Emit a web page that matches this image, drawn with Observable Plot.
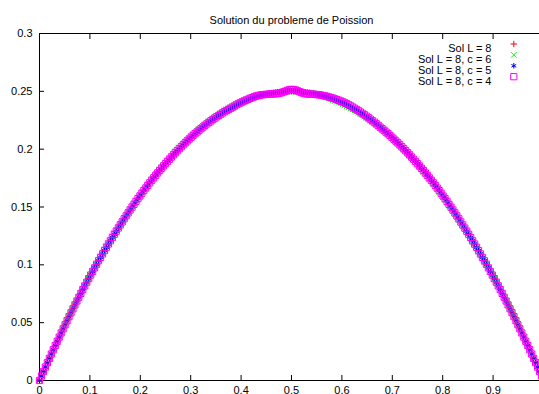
<!DOCTYPE html>
<html><head><meta charset="utf-8">
<script src="https://cdn.jsdelivr.net/npm/d3@7"></script>
<script src="https://cdn.jsdelivr.net/npm/@observablehq/plot@0.6"></script>
<style>
html,body{margin:0;padding:0;background:#fff;overflow:hidden;}
#chart{width:539px;height:394px;overflow:hidden;}
</style></head><body><div id="chart"></div>
<script>
const title = "Solution du probleme de Poission";
const seriesLabels = ["Sol L = 8", "Sol L = 8, c = 6", "Sol L = 8, c = 5", "Sol L = 8, c = 4"];
const xTicks = [0, 0.1, 0.2, 0.3, 0.4, 0.5, 0.6, 0.7, 0.8, 0.9, 1];
const yTicks = [0, 0.05, 0.1, 0.15, 0.2, 0.25, 0.3];

const xs = [0, .0039, .0078, .0117, .0156, .0195, .0234, .0273, .0313, .0352, .0391, .043, .0469, .0508, .0547, .0586, .0625, .0664, .0703, .0742, .0781, .082, .0859, .0898, .0938, .0977, .1016, .1055, .1094, .1133, .1172, .1211, .125, .1289, .1328, .1367, .1406, .1445, .1484, .1523, .1563, .1602, .1641, .168, .1719, .1758, .1797, .1836, .1875, .1914, .1953, .1992, .2031, .207, .2109, .2148, .2188, .2227, .2266, .2305, .2344, .2383, .2422, .2461,
.25, .2539, .2578, .2617, .2656, .2695, .2734, .2773, .2813, .2852, .2891, .293, .2969, .3008, .3047, .3086, .3125, .3164, .3203, .3242, .3281, .332, .3359, .3398, .3438, .3477, .3516, .3555, .3594, .3633, .3672, .3711, .375, .3789, .3828, .3867, .3906, .3945, .3984, .4023, .4063, .4102, .4141, .418, .4219, .4258, .4297, .4336, .4375, .4414, .4453, .4492, .4531, .457, .4609, .4648, .4688, .4727, .4766, .4805, .4844, .4883, .4922, .4961,
.5, .5039, .5078, .5117, .5156, .5195, .5234, .5273, .5313, .5352, .5391, .543, .5469, .5508, .5547, .5586, .5625, .5664, .5703, .5742, .5781, .582, .5859, .5898, .5938, .5977, .6016, .6055, .6094, .6133, .6172, .6211, .625, .6289, .6328, .6367, .6406, .6445, .6484, .6523, .6563, .6602, .6641, .668, .6719, .6758, .6797, .6836, .6875, .6914, .6953, .6992, .7031, .707, .7109, .7148, .7188, .7227, .7266, .7305, .7344, .7383, .7422, .7461,
.75, .7539, .7578, .7617, .7656, .7695, .7734, .7773, .7813, .7852, .7891, .793, .7969, .8008, .8047, .8086, .8125, .8164, .8203, .8242, .8281, .832, .8359, .8398, .8438, .8477, .8516, .8555, .8594, .8633, .8672, .8711, .875, .8789, .8828, .8867, .8906, .8945, .8984, .9023, .9063, .9102, .9141, .918, .9219, .9258, .9297, .9336, .9375, .9414, .9453, .9492, .9531, .957, .9609, .9648, .9688, .9727, .9766, .9805, .9844, .9883, .9922, .9961, 1];

const solL8 = [0, .0039, .0078, .0116, .0154, .0191, .0229, .0266, .0303, .0339,
.0375, .0411, .0447, .0482, .0517, .0552, .0586, .062, .0654, .0687,
.072, .0753, .0786, .0818, .085, .0881, .0912, .0943, .0974, .1005,
.1035, .1064, .1094, .1123, .1152, .118, .1208, .1236, .1264, .1291,
.1318, .1345, .1371, .1398, .1423, .1449, .1474, .1499, .1523, .1548,
.1572, .1595, .1619, .1642, .1664, .1687, .1709, .1731, .1752, .1774,
.1794, .1815, .1835, .1855, .1875, .1894, .1913, .1932, .1951, .1969,
.1987, .2004, .2021, .2038, .2055, .2071, .2087, .2103, .2119, .2134,
.2148, .2163, .2177, .2191, .2205, .2218, .2231, .2244, .2256, .2268,
.228, .2291, .2302, .2313, .2324, .2334, .2344, .2353, .2363, .2372,
.238, .2389, .2397, .2405, .2412, .2419, .2426, .2433, .2439, .2445,
.2451, .2456, .2461, .2466, .247, .2474, .2478, .2482, .2485, .2488,
.249, .2493, .2495, .2496, .2498, .2499, .2499, .25, .25,
.25, .2499, .2499, .2498, .2496, .2495, .2493, .249,
.2488, .2485, .2482, .2478, .2474, .247, .2466, .2461, .2456, .2451,
.2445, .2439, .2433, .2426, .2419, .2412, .2405, .2397, .2389, .238,
.2372, .2363, .2353, .2344, .2334, .2324, .2313, .2302, .2291, .228,
.2268, .2256, .2244, .2231, .2218, .2205, .2191, .2177, .2163, .2148,
.2134, .2119, .2103, .2087, .2071, .2055, .2038, .2021, .2004, .1987,
.1969, .1951, .1932, .1913, .1894, .1875, .1855, .1835, .1815, .1794,
.1774, .1752, .1731, .1709, .1687, .1664, .1642, .1619, .1595, .1572,
.1548, .1523, .1499, .1474, .1449, .1423, .1398, .1371, .1345, .1318,
.1291, .1264, .1236, .1208, .118, .1152, .1123, .1094, .1064, .1035,
.1005, .0974, .0943, .0912, .0881, .085, .0818, .0786, .0753, .072,
.0687, .0654, .062, .0586, .0552, .0517, .0482, .0447, .0411, .0375,
.0339, .0303, .0266, .0229, .0191, .0154, .0116, .0078, .0039, 0];

const solC6 = [0, .0039, .0078, .0116, .0154, .0191, .0229, .0266, .0303, .0339,
.0375, .0411, .0447, .0482, .0517, .0552, .0586, .062, .0654, .0687,
.072, .0753, .0786, .0818, .085, .0881, .0912, .0943, .0974, .1005,
.1045, .1074, .1104, .1133, .1162, .119, .1218, .1246, .1274, .1301,
.1328, .1355, .1381, .1408, .1433, .1459, .1484, .1509, .1533, .1558,
.1582, .1605, .1629, .1652, .1674, .1697, .1719, .1741, .1762, .1784,
.1804, .1825, .1845, .1865, .1885, .1904, .1923, .1942, .1961, .1979,
.1997, .2014, .2031, .2048, .2065, .2081, .2097, .2113, .2129, .2144,
.2158, .2173, .2187, .2201, .2215, .2228, .2241, .2254, .2266, .2278,
.229, .2301, .2312, .2323, .2334, .2344, .2354, .2363, .2373, .2382,
.239, .2399, .2407, .2415, .2422, .2429, .2436, .2443, .2447, .2452, .2457, .2458,
.2461, .2466, .247, .2474, .2478, .2482, .2485, .2488, .249, .2493, .2495, .2496, .2498, .2499, .2499, .25, .25,
.25, .2499, .2499, .2498, .2496, .2495, .2493, .249, .2488, .2485, .2482, .2478, .2474, .247, .2466, .2461,
.2454, .2446, .2437, .2429, .2423, .2416, .2409, .2402, .2395, .2387, .2379, .237,
.2362, .2353, .2343, .2334, .2324, .2314, .2303, .2292, .2281, .227,
.2258, .2246, .2234, .2221, .2208, .2195, .2181, .2167, .2153, .2138,
.2124, .2109, .2093, .2077, .2061, .2045, .2028, .2011, .1994, .1977,
.1959, .1941, .1922, .1903, .1884, .1865, .1845, .1825, .1805, .1784,
.1764, .1742, .1721, .1699, .1677, .1654, .1632, .1609, .1585, .1562,
.1538, .1513, .1489, .1464, .1439, .1413, .1388, .1361, .1335, .1308,
.1281, .1254, .1226, .1198, .117, .1142, .1113, .1084, .1054, .1025,
.1005, .0974, .0943, .0912, .0881, .085, .0818, .0786, .0753, .072,
.0687, .0654, .062, .0586, .0552, .0517, .0482, .0447, .0411, .0375,
.0339, .0303, .0266, .0229, .0191, .0154, .0116, .0078, .0039, 0];

const solC5 = [0, .0039, .0078, .0116, .0154, .0191, .0229, .0266, .0303, .0339,
.0375, .0411, .0447, .0482, .0517, .0552, .0586, .062, .0654, .0687,
.072, .0753, .0786, .0818, .085, .0881, .0912, .0943, .0974, .1005,
.1035, .1064, .1094, .1123, .1152, .118, .1208, .1236, .1264, .1291,
.1318, .1345, .1371, .1398, .1423, .1449, .1474, .1499, .1523, .1548,
.1572, .1595, .1619, .1642, .1664, .1687, .1709, .1731, .1752, .1774,
.1794, .1815, .1835, .1855, .1875, .1894, .1913, .1932, .1951, .1969,
.1987, .2004, .2021, .2038, .2055, .2071, .2087, .2103, .2119, .2134,
.2148, .2163, .2177, .2191, .2205, .2218, .2231, .2244, .2256, .2268,
.228, .2291, .2302, .2313, .2324, .2334, .2344, .2353, .2363, .2372,
.238, .2389, .2397, .2405, .2412, .2419, .2426, .2433, .2439, .2445,
.2451, .2456, .2461, .2466, .247, .2474, .2478, .2482, .2485, .2488,
.249, .2493, .2495, .2496,
.2499, .25, .2501, .2502, .2503, .2502, .2501, .25, .2499,
.2496, .2495, .2493, .249,
.2488, .2485, .2482, .2478, .2474, .247, .2466, .2461, .2456, .2451,
.2445, .2439, .2433, .2426, .2419, .2412, .2405, .2397, .2389, .238,
.2372, .2363, .2353, .2344, .2334, .2324, .2313, .2302, .2291, .228,
.2268, .2256, .2244, .2231, .2218, .2205, .2191, .2177, .2163, .2148,
.2134, .2119, .2103, .2087, .2071, .2055, .2038, .2021, .2004, .1987,
.1969, .1951, .1932, .1913, .1894, .1875, .1855, .1835, .1815, .1794,
.1774, .1752, .1731, .1709, .1687, .1664, .1642, .1619, .1595, .1572,
.1548, .1523, .1499, .1474, .1449, .1423, .1398, .1371, .1345, .1318,
.1291, .1264, .1236, .1208, .118, .1152, .1123, .1094, .1064, .1035,
.1005, .0974, .0943, .0912, .0881, .085, .0818, .0786, .0753, .072,
.0687, .0654, .062, .0586, .0552, .0517, .0482, .0447, .0411, .0375,
.0339, .0303, .0266, .0229, .0191, .0154, .0116, .0078, .0039, 0];

const solC4 = [0, .0039, .0078, .0116, .0154, .0191, .0229, .0266, .0303, .0339,
.0375, .0411, .0447, .0482, .0517, .0552, .0586, .062, .0654, .0687,
.072, .0753, .0786, .0818, .085, .0881, .0912, .0943, .0974, .1005,
.1035, .1064, .1094, .1123, .1152, .118, .1208, .1236, .1264, .1291,
.1318, .1345, .1371, .1398, .1423, .1449, .1474, .1499, .1523, .1548,
.1572, .1595, .1619, .1642, .1664, .1687, .1709, .1731, .1752, .1774,
.1794, .1815, .1835, .1855, .1875, .1894, .1913, .1932, .1951, .1969,
.1987, .2004, .2021, .2038, .2055, .2071, .2087, .2103, .2119, .2134,
.2148, .2163, .2177, .2191, .2205, .2218, .2231, .2244, .2256, .2268,
.228, .2291, .2302, .2313, .2324, .2334, .2344, .2353, .2363, .2372,
.2383, .2392, .24, .2409, .2417, .2425, .2432, .244, .2446, .2453,
.2459, .2464, .2467, .247, .2472, .2474, .2475, .2476, .2477, .2478,
.2479, .2481, .2484, .2489, .2495, .2502, .2509, .2514, .2517, .2516,
.2512, .2505, .2497, .249, .2484, .248, .2477, .2476, .2475, .2475,
.2474, .2472, .247, .2467, .2464, .246, .2456, .2451, .2446, .2441,
.2435, .2429, .2423, .2416, .2409, .2401, .2393, .2384, .2374, .2364,
.2354, .2343, .2332, .2321, .231, .2298, .2286, .2273, .226, .2247,
.2234, .222, .2206,
.2191, .2177, .2163, .2148,
.2134, .2119, .2103, .2087, .2071, .2055, .2038, .2021, .2004, .1987,
.1969, .1951, .1932, .1913, .1894, .1875, .1855, .1835, .1815, .1794,
.1774, .1752, .1731, .1709, .1687, .1664, .1642, .1619, .1595, .1572,
.1548, .1523, .1499, .1474, .1449, .1423, .1398, .1371, .1345, .1318,
.1291, .1264, .1236, .1208, .118, .1152, .1123, .1094, .1064, .1035,
.1005, .0974, .0943, .0912, .0881, .085, .0818, .0786, .0753, .072,
.0687, .0654, .062, .0586, .0552, .0517, .0482, .0447, .0411, .0375,
.0339, .0303, .0266, .0229, .0191, .0154, .0116, .0078, .0039, 0];

const seriesValues = [solL8, solC6, solC5, solC4];
const styles = [
  {symbol: "plus", stroke: "#ff0000", r: 2.2},
  {symbol: "times", stroke: "#00ff00", r: 2.6},
  {symbol: "asterisk", stroke: "#0000ff", r: 2.6},
  {symbol: "square", stroke: "#ff00ff", r: 3.5}
];

const rows = ys => xs.slice(0, Math.min(xs.length, ys.length)).map((x, i) => ({x, y: ys[i]}));
const fmt = d3.format("~g");
const blank = () => "";

const marks = [
  Plot.ruleY([0, 0.3], {stroke: "#000"}),
  Plot.ruleX([0], {stroke: "#000"}),
  Plot.axisX({ticks: xTicks, tickSize: 0, tickPadding: 6, tickFormat: fmt, label: null}),
  Plot.axisX({ticks: xTicks, tickSize: -5, tickFormat: blank, label: null}),
  Plot.axisX({anchor: "top", ticks: xTicks, tickSize: -5, tickFormat: blank, label: null}),
  Plot.axisY({ticks: yTicks, tickSize: 0, tickPadding: 7, tickFormat: fmt, label: null}),
  Plot.axisY({ticks: yTicks, tickSize: -5, tickFormat: blank, label: null}),
  Plot.axisY({anchor: "right", ticks: yTicks, tickSize: -5, dx: 4, tickFormat: blank, label: null})
];
seriesValues.forEach((vals, i) => {
  const s = styles[i];
  marks.push(Plot.dot(rows(vals), {x: "x", y: "y", symbol: s.symbol, stroke: s.stroke, fill: "none", r: s.r, strokeWidth: 1}));
});
seriesLabels.forEach((lab, i) => {
  const s = styles[i];
  marks.push(Plot.text([lab], {frameAnchor: "top-right", dx: -48, dy: 10.5 + i * 10.9, text: d => d, textAnchor: "end", fill: "#000"}));
  marks.push(Plot.dot([lab], {frameAnchor: "top-right", dx: -25.7, dy: 10.5 + i * 10.9, symbol: s.symbol, stroke: s.stroke, fill: "none", r: s.r, strokeWidth: 1}));
});
marks.push(Plot.text([title], {frameAnchor: "top", dx: 2, dy: -17.5, text: d => d, fill: "#000"}));

const chart = Plot.plot({
  width: 539,
  height: 394,
  marginLeft: 39,
  marginRight: 0,
  marginTop: 33,
  marginBottom: 14,
  style: {fontFamily: "'Liberation Sans', Arial, sans-serif", fontSize: "11px", background: "#fff", color: "#000"},
  x: {domain: [0, 1], range: [39, 543], label: null},
  y: {domain: [0, 0.3], label: null},
  marks
});
document.getElementById("chart").appendChild(chart);
</script>
</body></html>
